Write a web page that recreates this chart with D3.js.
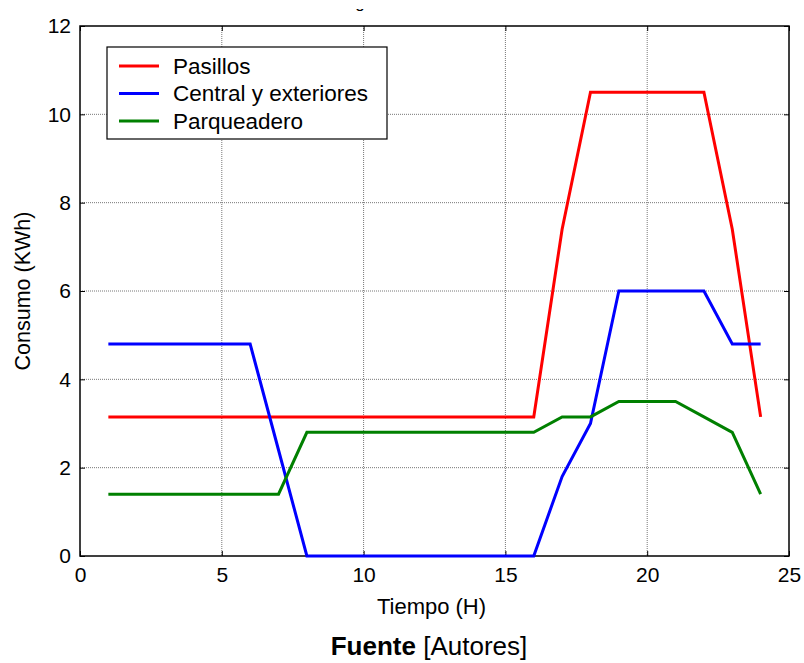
<!DOCTYPE html>
<html>
<head>
<meta charset="utf-8">
<script src="https://cdn.jsdelivr.net/npm/d3@7"></script>
<style>
  body { margin: 0; background: #fff; }
  text { font-family: "Liberation Sans", Arial, sans-serif; }
</style>
</head>
<body>
<div id="chart"></div>
<script>
//hours of the day
const horas = [1,2,3,4,5,6,7,8,9,10,11,12,13,14,15,16,17,18,19,20,21,22,23,24];
//consumption per zone (KWh)
const pasillos = [3.15,3.15,3.15,3.15,3.15,3.15,3.15,3.15,3.15,3.15,3.15,3.15,3.15,3.15,3.15,3.15,7.4,10.5,10.5,10.5,10.5,10.5,7.4,3.15];
const central = [4.8,4.8,4.8,4.8,4.8,4.8,2.4,0,0,0,0,0,0,0,0,0,1.8,3.0,6.0,6.0,6.0,6.0,4.8,4.8];
const parqueadero = [1.4,1.4,1.4,1.4,1.4,1.4,1.4,2.8,2.8,2.8,2.8,2.8,2.8,2.8,2.8,2.8,3.15,3.15,3.5,3.5,3.5,3.15,2.8,1.4];
const seriesNames = ['Pasillos', 'Central y exteriores', 'Parqueadero'];
const seriesColors = ['#ff0000', '#0000ff', '#008000'];
const xTicks = [0,5,10,15,20,25];
const yTicks = [0,2,4,6,8,10,12];

const W = 804, H = 663;
const margin = { top: 26, right: 15, bottom: 107, left: 80 };
const width = W - margin.left - margin.right;
const height = H - margin.top - margin.bottom;

const svg = d3.select('#chart').append('svg')
    .attr('width', W).attr('height', H);

//title mostly cut off at the top edge, only a descender shows
svg.append('clipPath').attr('id', 'titleClip')
  .append('rect').attr('x', 340).attr('y', 9).attr('width', 40).attr('height', 8);
svg.append('text')
    .attr('x', 360).attr('y', 8)
    .attr('font-size', 17)
    .attr('text-anchor', 'middle')
    .attr('clip-path', 'url(#titleClip)')
    .text('g');

const g = svg.append('g').attr('transform', `translate(${margin.left},${margin.top})`);

const x = d3.scaleLinear().domain([0, 25]).range([0, width]);
const y = d3.scaleLinear().domain([0, 12]).range([height, 0]);

//grid (dotted)
g.append('g').selectAll('line').data(xTicks.slice(1, -1)).enter().append('line')
    .attr('x1', d => x(d)).attr('x2', d => x(d))
    .attr('y1', 0).attr('y2', height)
    .attr('stroke', '#777').attr('stroke-width', 1).attr('stroke-dasharray', '1,1');
g.append('g').selectAll('line').data(yTicks.slice(1, -1)).enter().append('line')
    .attr('y1', d => y(d)).attr('y2', d => y(d))
    .attr('x1', 0).attr('x2', width)
    .attr('stroke', '#777').attr('stroke-width', 1).attr('stroke-dasharray', '1,1');

//axes, inward ticks on all four sides
const styleAxis = sel => {
    sel.select('.domain').remove();
    sel.selectAll('line').attr('stroke', '#000');
    sel.selectAll('text').attr('font-size', 21).attr('fill', '#000');
};
g.append('g').attr('transform', `translate(0,${height})`)
    .call(d3.axisBottom(x).tickValues(xTicks).tickSize(-5).tickPadding(11).tickFormat(d3.format('d')))
    .call(styleAxis);
g.append('g')
    .call(d3.axisLeft(y).tickValues(yTicks).tickSize(-5).tickPadding(9).tickFormat(d3.format('d')))
    .call(styleAxis);
g.append('g')
    .call(d3.axisTop(x).tickValues(xTicks).tickSize(-5).tickFormat(''))
    .call(styleAxis);
g.append('g').attr('transform', `translate(${width},0)`)
    .call(d3.axisRight(y).tickValues(yTicks).tickSize(-5).tickFormat(''))
    .call(styleAxis);

//frame
g.append('rect').attr('width', width).attr('height', height)
    .attr('fill', 'none').attr('stroke', '#000').attr('stroke-width', 1.5);

//data lines
const line = d3.line().x((d, i) => x(horas[i])).y(d => y(d));
[pasillos, central, parqueadero].forEach((s, k) => {
    g.append('path').datum(s)
        .attr('d', line)
        .attr('fill', 'none')
        .attr('stroke', seriesColors[k])
        .attr('stroke-width', 3);
});

//legend
const leg = svg.append('g').attr('transform', 'translate(107,47)');
leg.append('rect').attr('width', 280).attr('height', 92)
    .attr('fill', '#fff').attr('stroke', '#000').attr('stroke-width', 1.2);
seriesNames.forEach((n, i) => {
    const yy = 19 + i * 27.5;
    leg.append('line').attr('x1', 12).attr('x2', 52).attr('y1', yy).attr('y2', yy)
        .attr('stroke', seriesColors[i]).attr('stroke-width', 3);
    leg.append('text').attr('x', 66).attr('y', yy + 7.5)
        .attr('font-size', 22.5).text(n);
});

//axis titles
svg.append('text')
    .attr('x', margin.left + width / 2 - 3).attr('y', 614)
    .attr('text-anchor', 'middle').attr('font-size', 22)
    .text('Tiempo (H)');
svg.append('text')
    .attr('transform', `translate(30,${margin.top + height / 2}) rotate(-90)`)
    .attr('text-anchor', 'middle').attr('font-size', 21.5)
    .text('Consumo (KWh)');

//source
const src = svg.append('text')
    .attr('x', 429).attr('y', 655)
    .attr('text-anchor', 'middle').attr('font-size', 26);
src.append('tspan').attr('font-weight', 'bold').text('Fuente');
src.append('tspan').text(' [Autores]');
</script>
</body>
</html>
